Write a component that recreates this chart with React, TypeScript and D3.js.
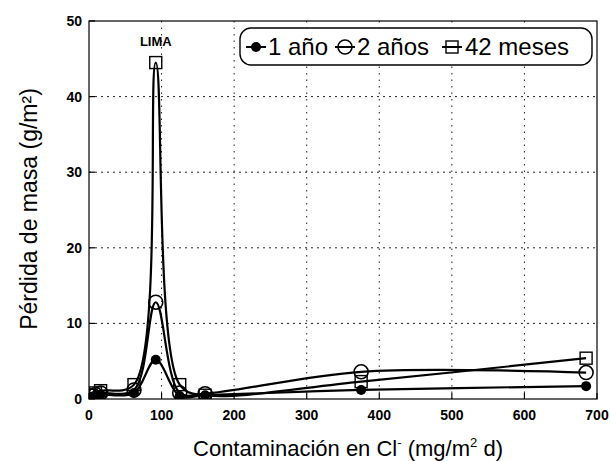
import * as d3 from 'd3'

// concentración de cloruros (mg/m2 d)
const cloruros = [3, 9, 16, 62, 92, 125, 160, 375, 685]
// pérdida de masa (g/m2)
const unAno = [0.3, 0.5, 0.6, 0.8, 5.2, 0.4, 0.5, 1.2, 1.7]
const dosAnos = [0.4, 0.6, 0.8, 1.2, 12.8, 0.8, 0.7, 3.6, 3.5]
const meses42 = [0.5, 0.8, 1.1, 1.9, 44.5, 1.9, 0.5, 2.3, 5.4]

const xTicks = [0, 100, 200, 300, 400, 500, 600, 700]
const yTicks = [0, 10, 20, 30, 40, 50]

const width = 611
const height = 461
const marginLeft = 89
const marginRight = 14
const marginTop = 21
const marginBottom = 62
const font = '"Liberation Sans", Arial, Helvetica, sans-serif'

const App = () => {
	const x = d3
		.scaleLinear()
		.domain([0, 700])
		.range([marginLeft, width - marginRight])
	const y = d3
		.scaleLinear()
		.domain([0, 50])
		.range([height - marginBottom, marginTop])

	const line = d3
		.line<number>()
		.curve(d3.curveCatmullRom.alpha(0.5))
		.x((d, i) => x(cloruros[i]))
		.y((d) => y(d))

	const series = [
		{ name: '1 año', values: unAno, mark: 'dot' },
		{ name: '2 años', values: dosAnos, mark: 'circle' },
		{ name: '42 meses', values: meses42, mark: 'square' },
	]

	const marker = (mark, cx, cy, key) => {
		if (mark === 'dot') return <circle key={key} cx={cx} cy={cy} r={5} fill="#000" />
		if (mark === 'circle')
			return <circle key={key} cx={cx} cy={cy} r={7} fill="none" stroke="#000" strokeWidth={1.6} />
		return (
			<rect key={key} x={cx - 6} y={cy - 6} width={12} height={12} fill="none" stroke="#000" strokeWidth={1.4} />
		)
	}

	const left = marginLeft
	const right = width - marginRight
	const top = marginTop
	const bottom = height - marginBottom

	// leyenda
	const legendItems = [
		{ mark: 'dot', label: '1 año', sx: 256, tx: 268 },
		{ mark: 'circle', label: '2 años', sx: 345, tx: 357 },
		{ mark: 'square', label: '42 meses', sx: 452, tx: 465 },
	]

	return (
		<svg
			width={width}
			height={height}
			style={{ position: 'absolute', left: 0, top: 0, background: '#fff' }}
			fontFamily={font}
		>
			<rect width={width} height={height} fill="#fff" />
			<defs>
				<clipPath id="plot">
					<rect x={left} y={top} width={right - left} height={bottom - top} />
				</clipPath>
			</defs>

			{/* rejilla */}
			{xTicks.slice(1, -1).map((t) => (
				<line key={'gx' + t} x1={x(t)} x2={x(t)} y1={top} y2={bottom} stroke="#222" strokeWidth={1} strokeDasharray="1.5,5" />
			))}
			{yTicks.slice(1, -1).map((t) => (
				<line key={'gy' + t} x1={left} x2={right} y1={y(t)} y2={y(t)} stroke="#222" strokeWidth={1} strokeDasharray="2,4" />
			))}

			{/* marco */}
			<rect x={left} y={top} width={right - left} height={bottom - top} fill="none" stroke="#000" strokeWidth={1.2} />
			{xTicks.map((t) => (
				<line key={'tx' + t} x1={x(t)} x2={x(t)} y1={bottom} y2={bottom - 6} stroke="#000" strokeWidth={1.2} />
			))}
			{yTicks.map((t) => (
				<line key={'ty' + t} x1={left} x2={left + 6} y1={y(t)} y2={y(t)} stroke="#000" strokeWidth={1.2} />
			))}

			{/* etiquetas de ejes */}
			{xTicks.map((t) => (
				<text key={'lx' + t} x={x(t)} y={bottom + 21} textAnchor="middle" fontSize={14} fontWeight="bold">
					{t}
				</text>
			))}
			{yTicks.map((t) => (
				<text key={'ly' + t} x={left - 7} y={y(t) + 5} textAnchor="end" fontSize={14} fontWeight="bold">
					{t}
				</text>
			))}

			{/* series */}
			<g clipPath="url(#plot)">
				{series.map((s) => (
					<path key={s.name} d={line(s.values)} fill="none" stroke="#000" strokeWidth={2.2} />
				))}
				{series.map((s) => s.values.map((v, i) => marker(s.mark, x(cloruros[i]), y(v), s.name + i)))}
			</g>

			<text x={x(92)} y={46} textAnchor="middle" fontSize={13} fontWeight="bold">
				LIMA
			</text>

			{/* leyenda */}
			<rect x={240} y={28} width={352} height={37} rx={11} fill="#fff" stroke="#000" strokeWidth={1.4} />
			{legendItems.map((it) => (
				<g key={it.label}>
					<line x1={it.sx - 10} x2={it.sx + 10} y1={47} y2={47} stroke="#000" strokeWidth={2} />
					{marker(it.mark, it.sx, 47, 'lg' + it.label)}
					<text x={it.tx} y={55} fontSize={24}>
						{it.label}
					</text>
				</g>
			))}

			{/* títulos */}
			<text transform={`translate(37,${(top + bottom) / 2 - 1}) rotate(-90)`} textAnchor="middle" fontSize={23}>
				Pérdida de masa  (g/m²)
			</text>
			<text x={(left + right) / 2 + 5} y={456} textAnchor="middle" fontSize={22}>
				Contaminación en Cl
				<tspan dy={-9} fontSize={13}>-</tspan>
				<tspan dy={9}> (mg/m</tspan>
				<tspan dy={-9} fontSize={13}>2</tspan>
				<tspan dy={9}> d)</tspan>
			</text>
		</svg>
	)
}

export default App
